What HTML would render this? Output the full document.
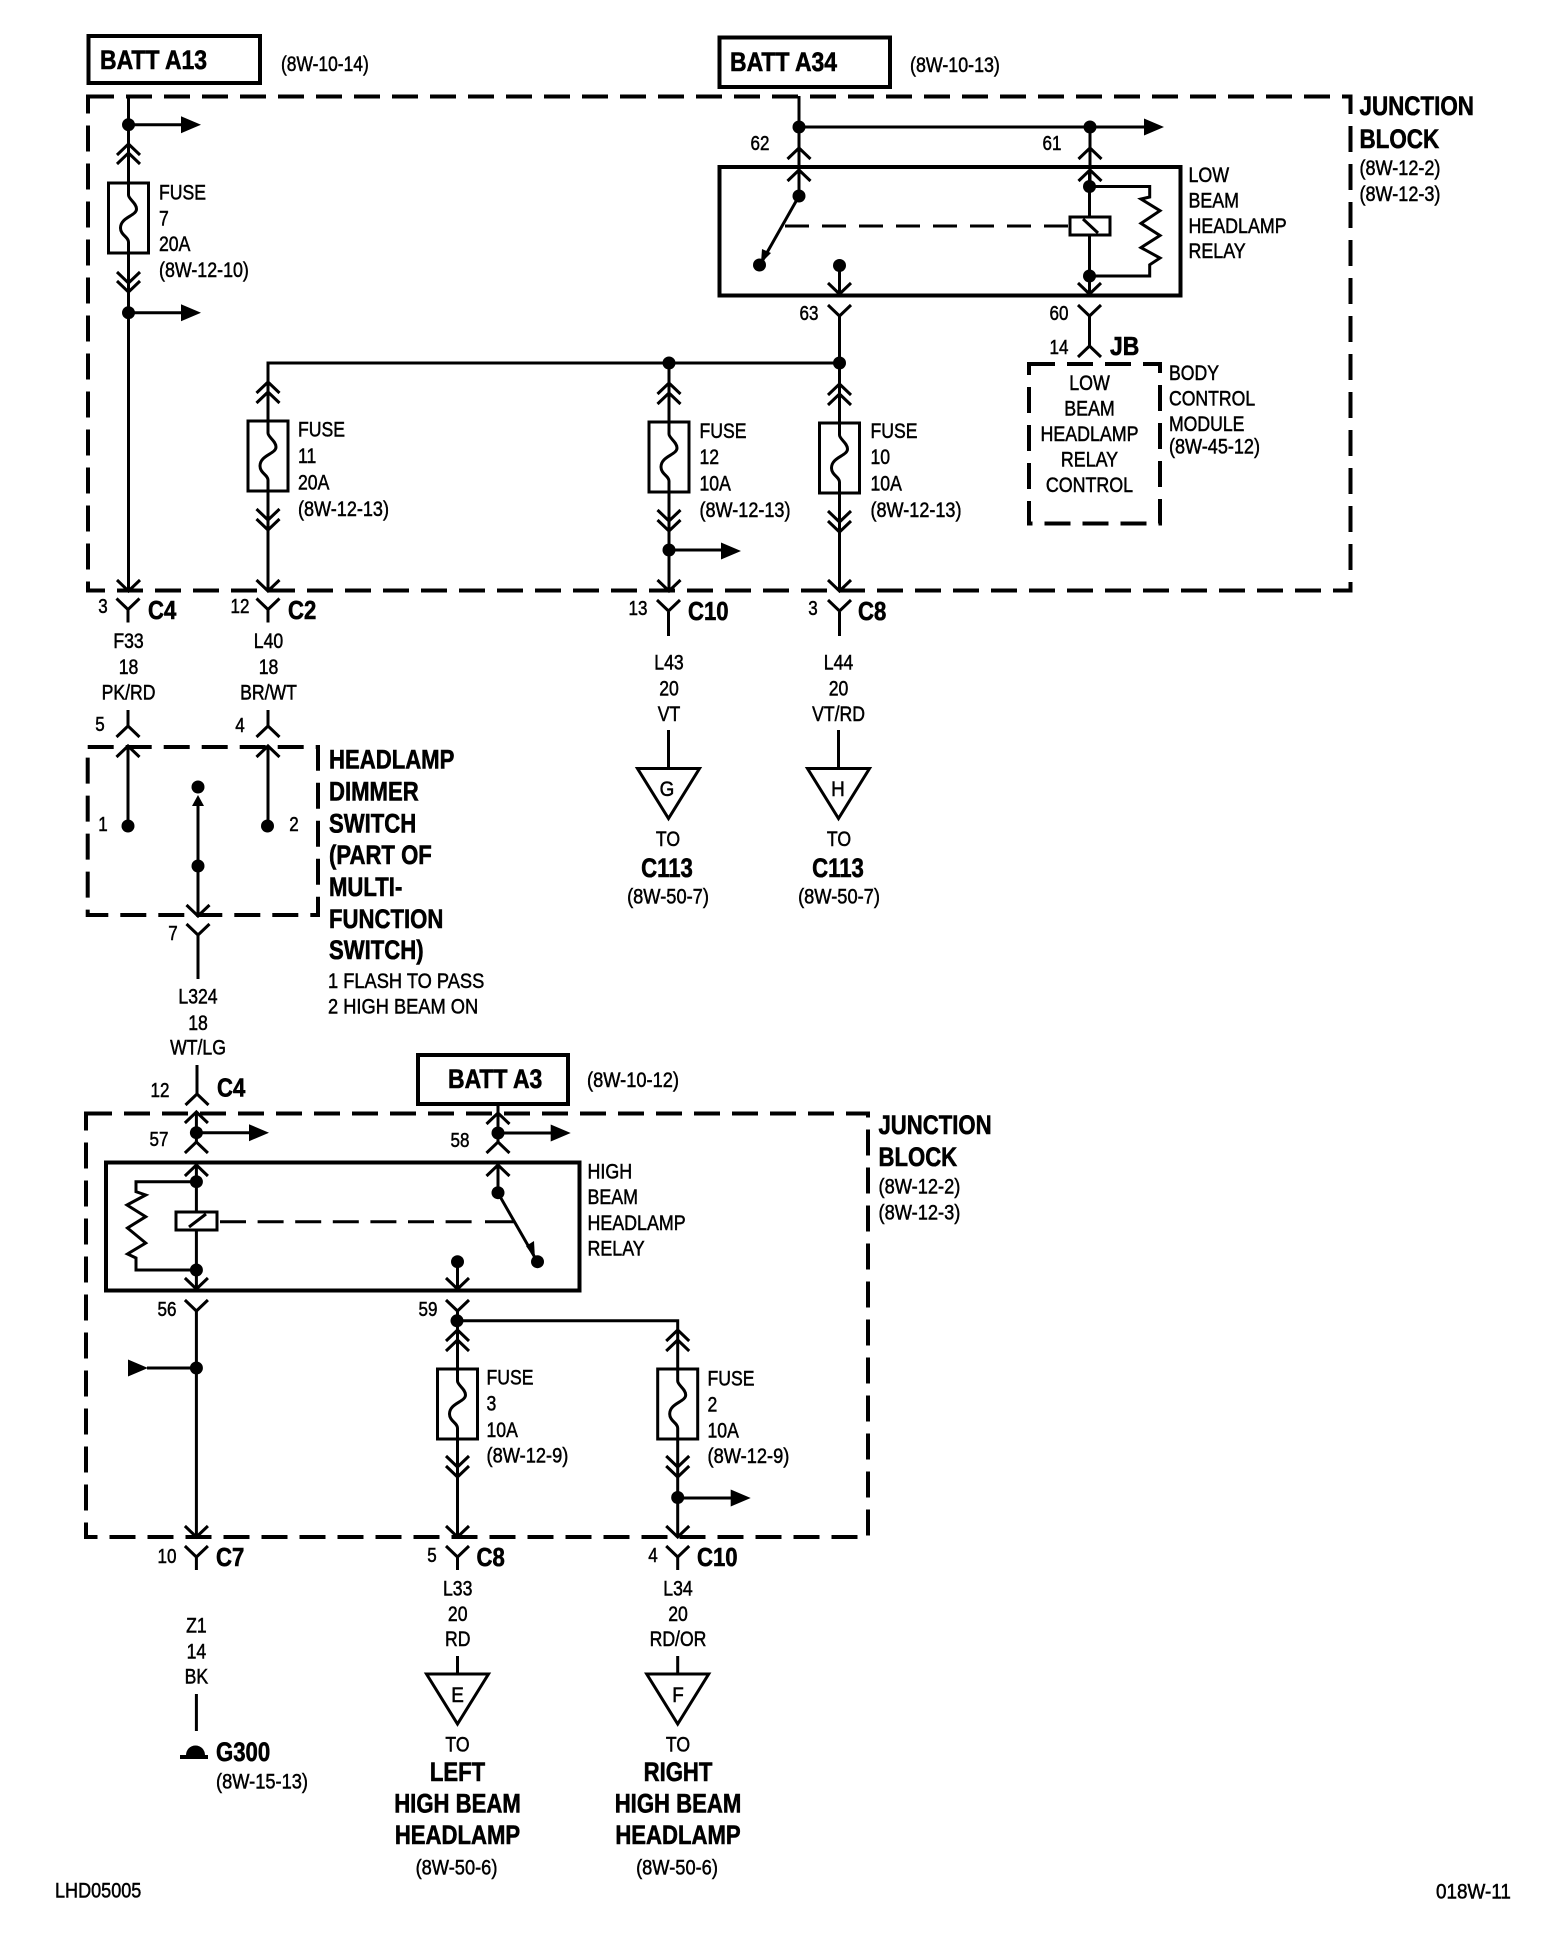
<!DOCTYPE html>
<html><head><meta charset="utf-8"><title>Headlamp wiring diagram</title>
<style>
html,body{margin:0;padding:0;background:#fff}
svg{display:block}
text{font-family:"Liberation Sans",Arial,sans-serif;font-size:21px;fill:#000;stroke:#000;stroke-width:.5}
.b,.b text{font-weight:700;font-size:27px;stroke-width:.6}
.n,.n text{font-size:20px}
.cb,.cb text{font-weight:700;font-size:26px;stroke-width:.6}
.c,.c text{text-anchor:middle}
.w{fill:none;stroke:#000;stroke-width:3}
.t{fill:none;stroke:#000;stroke-width:4}
.d{fill:none;stroke:#000;stroke-width:4;stroke-dasharray:26 12}
</style></head><body>
<svg width="1568" height="1940" viewBox="0 0 1568 1940" xmlns="http://www.w3.org/2000/svg">
<defs>
<polyline id="u" points="-11.5,11 0,0 11.5,11" fill="none" stroke="#000" stroke-width="3"/>
<polyline id="v" points="-11.5,-11 0,0 11.5,-11" fill="none" stroke="#000" stroke-width="3"/>
<polygon id="ah" points="-20,-8.5 0,0 -20,8.5" fill="#000"/>
<circle id="o" r="6.5" fill="#000"/>
<g id="fz"><rect x="-20" y="0" width="40" height="70" fill="#fff" stroke="#000" stroke-width="3"/><path d="M0,0V12C0,16 8,20 8,26C8,33 -8,34 -8,45C-8,52 0,54 0,59V70" fill="none" stroke="#000" stroke-width="3"/></g>
<polygon id="tri" points="-31,0 31,0 0,50" fill="#fff" stroke="#000" stroke-width="3"/>
</defs>
<rect width="1568" height="1940" fill="#fff"/>

<!-- Battery boxes -->
<rect class="t" x="88.5" y="36" width="171.5" height="47"/>
<rect class="t" x="719.5" y="37.5" width="170.5" height="49.5"/>
<rect class="t" x="418" y="1055" width="150" height="49"/>
<text class="b" transform="translate(100 69) scale(.85 1)">BATT A13</text>
<text class="b" transform="translate(730 71) scale(.85 1)">BATT A34</text>
<text class="b" transform="translate(448 1088) scale(.85 1)">BATT A3</text>
<text transform="translate(281 71) scale(.83 1)">(8W-10-14)</text>
<text transform="translate(910 72) scale(.85 1)">(8W-10-13)</text>
<text transform="translate(587 1087) scale(.87 1)">(8W-10-12)</text>

<!-- Dashed blocks -->
<rect class="d" x="88" y="96.5" width="1262.5" height="494"/>
<rect class="d" x="87.7" y="747" width="230.3" height="168"/>
<rect class="d" x="1029" y="364" width="131" height="159.5"/>
<rect class="d" x="86" y="1113.5" width="782" height="423.5"/>

<!-- A13 branch -->
<path class="w" d="M128.5 96V590M128.5 124.7H185M128.5 312.7H185"/>
<use href="#o" x="128.5" y="124.7"/><use href="#ah" x="201" y="124.7"/>
<use href="#u" x="128.5" y="144"/><use href="#u" x="128.5" y="153"/>
<use href="#fz" x="128.5" y="183"/>
<use href="#v" x="128.5" y="283"/><use href="#v" x="128.5" y="292"/>
<use href="#o" x="128.5" y="312.7"/><use href="#ah" x="201" y="312.7"/>
<use href="#v" x="128.5" y="591"/>
<g transform="translate(159 0) scale(.84 1)"><text y="199.5">FUSE</text><text y="225.5">7</text><text y="251">20A</text></g>
<text transform="translate(159 277) scale(.85 1)">(8W-12-10)</text>

<!-- A34 branch -->
<path class="w" d="M799 96V196M799 127H1145M1090 127V186"/>
<use href="#o" x="799" y="127"/><use href="#o" x="1090" y="127"/><use href="#ah" x="1164" y="127"/>
<use href="#u" x="799" y="148"/><use href="#u" x="1090" y="148"/>
<rect class="t" x="719.5" y="167" width="461" height="128.5"/>
<use href="#u" x="799" y="170"/><use href="#u" x="1090" y="170"/>
<use href="#o" x="799" y="196"/>
<path class="w" d="M799 196L760 265"/>
<use href="#o" x="759.5" y="265"/>
<polygon points="761,263 762,249 771,253"/>
<path d="M785 226H1070" fill="none" stroke="#000" stroke-width="3" stroke-dasharray="24 13"/>
<rect x="1070" y="217" width="40" height="18" fill="#fff" stroke="#000" stroke-width="3"/>
<path class="w" d="M1083 219L1098 233M1089.5 170V217M1089.5 235V294M1089.5 186.5H1149.7V197L1141 199L1160 210.7L1141 223.4L1160 235.5L1141 247.6L1160 258L1149.7 264.8V276H1089.5"/>
<use href="#o" x="1089.5" y="186.5"/><use href="#o" x="1089.5" y="276"/>
<use href="#v" x="1089.5" y="294"/>
<path class="w" d="M839.5 265V294"/>
<use href="#o" x="839.5" y="265.5"/><use href="#v" x="839.5" y="294"/>
<path class="w" d="M839.5 316V590M1089.5 316V346"/>
<use href="#v" x="839.5" y="316"/><use href="#v" x="1089.5" y="316"/>
<use href="#u" x="1089.5" y="346"/>
<text class="n c" transform="translate(760 150) scale(.85 1)">62</text>
<text class="n c" transform="translate(1052 150) scale(.85 1)">61</text>
<text class="n c" transform="translate(809 320) scale(.85 1)">63</text>
<text class="n c" transform="translate(1059 320) scale(.85 1)">60</text>
<text class="n c" transform="translate(1059 354) scale(.85 1)">14</text>
<text class="cb" transform="translate(1110 355) scale(.88 1)">JB</text>

<g transform="translate(1188.5 0) scale(.85 1)"><text y="182">LOW</text><text y="207.5">BEAM</text><text y="232.8">HEADLAMP</text><text y="258">RELAY</text></g>
<g class="c" transform="translate(1089.5 0) scale(.85 1)"><text y="390">LOW</text><text y="415.5">BEAM</text><text y="441">HEADLAMP</text><text y="466.5">RELAY</text><text y="492">CONTROL</text></g>
<g transform="translate(1169 0) scale(.84 1)"><text y="380">BODY</text><text y="405.5">CONTROL</text><text y="431">MODULE</text></g>
<text transform="translate(1169 453.5) scale(.86 1)">(8W-45-12)</text>
<g class="b" transform="translate(1359.5 0) scale(.83 1)"><text y="115">JUNCTION</text><text y="148">BLOCK</text></g>
<g transform="translate(1359.5 0) scale(.86 1)"><text y="175">(8W-12-2)</text><text y="201">(8W-12-3)</text></g>

<!-- Bus and fuses 11, 12, 10 -->
<path class="w" d="M268 590V363H840M669 363V590"/>
<use href="#o" x="669" y="363"/><use href="#o" x="839.5" y="363"/>
<use href="#u" x="268" y="382"/><use href="#u" x="268" y="392"/>
<use href="#u" x="669" y="383"/><use href="#u" x="669" y="393"/>
<use href="#u" x="839.5" y="384"/><use href="#u" x="839.5" y="394"/>
<use href="#fz" x="268" y="421"/><use href="#fz" x="669" y="422"/><use href="#fz" x="839.5" y="423"/>
<use href="#v" x="268" y="520"/><use href="#v" x="268" y="530"/>
<use href="#v" x="669" y="521"/><use href="#v" x="669" y="531"/>
<use href="#v" x="839.5" y="522"/><use href="#v" x="839.5" y="532"/>
<path class="w" d="M669 550H725"/>
<use href="#o" x="669" y="550"/><use href="#ah" x="741" y="551"/>
<use href="#v" x="268" y="591"/><use href="#v" x="669" y="591"/><use href="#v" x="839.5" y="591"/>
<g transform="translate(298 0) scale(.84 1)"><text y="436.5">FUSE</text><text y="463">11</text><text y="489.5">20A</text></g>
<text transform="translate(298 516) scale(.86 1)">(8W-12-13)</text>
<g transform="translate(699.5 0) scale(.84 1)"><text y="438">FUSE</text><text y="464">12</text><text y="490.5">10A</text></g>
<text transform="translate(699.5 517) scale(.86 1)">(8W-12-13)</text>
<g transform="translate(870.5 0) scale(.84 1)"><text y="438">FUSE</text><text y="464">10</text><text y="490.5">10A</text></g>
<text transform="translate(870.5 517) scale(.86 1)">(8W-12-13)</text>

<!-- Top block exit connectors -->
<path class="w" d="M128 609V622.5M268 609V622.5M668.5 612V636M839.5 612V636"/>
<use href="#v" x="128" y="609.5"/><use href="#v" x="268" y="609.5"/><use href="#v" x="668.5" y="611"/><use href="#v" x="839.5" y="611"/>
<text class="n c" transform="translate(103 613) scale(.85 1)">3</text>
<text class="cb" transform="translate(148 619) scale(.85 1)">C4</text>
<text class="n c" transform="translate(240 613) scale(.85 1)">12</text>
<text class="cb" transform="translate(288 619) scale(.85 1)">C2</text>
<text class="n c" transform="translate(638 615) scale(.85 1)">13</text>
<text class="cb" transform="translate(688 620) scale(.85 1)">C10</text>
<text class="n c" transform="translate(813 615) scale(.85 1)">3</text>
<text class="cb" transform="translate(858 620) scale(.85 1)">C8</text>
<g class="c" transform="translate(128.5 0) scale(.84 1)"><text y="648">F33</text><text y="674">18</text><text y="699.5">PK/RD</text></g>
<g class="c" transform="translate(268.5 0) scale(.84 1)"><text y="648">L40</text><text y="674">18</text><text y="699.5">BR/WT</text></g>
<g class="c" transform="translate(669 0) scale(.84 1)"><text y="669.5">L43</text><text y="695.5">20</text><text y="721">VT</text></g>
<g class="c" transform="translate(838.5 0) scale(.84 1)"><text y="669.5">L44</text><text y="695.5">20</text><text y="721">VT/RD</text></g>

<!-- G / H -->
<path class="w" d="M668.5 730V768M838.5 730V768"/>
<use href="#tri" x="668.5" y="768.5"/><use href="#tri" x="838.5" y="768.5"/>
<text class="c" transform="translate(667 796) scale(.9 1)">G</text>
<text class="c" transform="translate(838 796) scale(.9 1)">H</text>
<g class="c" transform="translate(668 0) scale(.84 1)"><text y="846">TO</text></g>
<g class="c" transform="translate(839 0) scale(.84 1)"><text y="846">TO</text></g>
<text class="b c" transform="translate(667 877) scale(.82 1)">C113</text>
<text class="b c" transform="translate(838 877) scale(.82 1)">C113</text>
<text class="c" transform="translate(668 903.5) scale(.87 1)">(8W-50-7)</text>
<text class="c" transform="translate(839 903.5) scale(.87 1)">(8W-50-7)</text>

<!-- Dimmer switch -->
<path class="w" d="M128 710V726M268 710V726M128 746V826M268 746V826M198 798V916M198 935V979"/>
<use href="#u" x="128" y="726"/><use href="#u" x="268" y="726"/>
<use href="#u" x="128" y="746"/><use href="#u" x="268" y="746"/>
<use href="#o" x="128" y="826"/><use href="#o" x="267.5" y="826"/>
<use href="#o" x="198" y="787"/><use href="#o" x="198" y="866"/>
<polygon points="198,795 192,806 204,806"/>
<use href="#v" x="198" y="916"/><use href="#v" x="198" y="935"/>
<text class="n c" transform="translate(100 731) scale(.85 1)">5</text>
<text class="n c" transform="translate(240 732) scale(.85 1)">4</text>
<text class="n c" transform="translate(103 831) scale(.85 1)">1</text>
<text class="n c" transform="translate(294 831) scale(.85 1)">2</text>
<text class="n c" transform="translate(173 940) scale(.85 1)">7</text>
<g class="b" transform="translate(329 0) scale(.82 1)"><text y="768.5">HEADLAMP</text><text y="800.5">DIMMER</text><text y="832.5">SWITCH</text><text y="864">(PART OF</text><text y="896">MULTI-</text><text y="928">FUNCTION</text><text y="959">SWITCH)</text></g>
<g transform="translate(328 0) scale(.87 1)"><text y="988">1 FLASH TO PASS</text><text y="1013.5">2 HIGH BEAM ON</text></g>
<g class="c" transform="translate(198 0) scale(.84 1)"><text y="1003.5">L324</text><text y="1030">18</text><text y="1054.5">WT/LG</text></g>

<!-- Lower connector C4 -->
<path class="w" d="M197 1065V1094M196.4 1112V1132M498 1106V1133"/>
<use href="#u" x="197" y="1094"/>
<text class="n c" transform="translate(160 1097) scale(.85 1)">12</text>
<text class="cb" transform="translate(217 1096.5) scale(.85 1)">C4</text>

<!-- High beam relay -->
<use href="#u" x="196.4" y="1112"/><use href="#u" x="498" y="1113"/>
<path class="w" d="M196.4 1132.7H252M498 1133H554M196.4 1132.7V1142M498 1133V1142"/>
<use href="#o" x="196.4" y="1132.7"/><use href="#o" x="498" y="1133"/>
<use href="#ah" x="269" y="1132.7"/><use href="#ah" x="570.7" y="1133"/>
<use href="#u" x="196.4" y="1142"/><use href="#u" x="498" y="1142"/>
<rect class="t" x="106" y="1162.5" width="473.5" height="128"/>
<use href="#u" x="196.4" y="1165"/><use href="#u" x="498" y="1165"/>
<path class="w" d="M196.4 1165V1211M196.4 1230V1289M196.4 1181.7H136V1191.7L145.7 1195L127 1205L145.7 1216.7L127.5 1228L145.7 1243L127.5 1254L136 1258V1270H196.4"/>
<use href="#o" x="196.4" y="1181.7"/><use href="#o" x="196.4" y="1270"/>
<use href="#v" x="196.4" y="1289"/>
<rect x="176" y="1212" width="41" height="18" fill="#fff" stroke="#000" stroke-width="3"/>
<path class="w" d="M189 1227L206 1214"/>
<path d="M220 1221.7H482" fill="none" stroke="#000" stroke-width="3" stroke-dasharray="26 11.6"/>
<path class="w" d="M485 1221.7H514"/>
<path class="w" d="M498 1165V1193L537.5 1262"/>
<use href="#o" x="498" y="1192.7"/><use href="#o" x="537.5" y="1261.7"/>
<polygon points="535,1259 526,1246 534,1241"/>
<path class="w" d="M457.5 1262V1289"/>
<use href="#o" x="457.5" y="1261.7"/><use href="#v" x="457.5" y="1289"/>
<use href="#v" x="196.4" y="1311"/><use href="#v" x="457.5" y="1311"/>
<path class="w" d="M196.4 1311V1537M147 1368H196.4M457.5 1311V1537M457.5 1320.8H677.7V1537"/>
<use href="#o" x="196.4" y="1368"/><use href="#ah" x="148" y="1368"/>
<use href="#o" x="457" y="1320.8"/>
<text class="n c" transform="translate(159 1146) scale(.85 1)">57</text>
<text class="n c" transform="translate(460 1147) scale(.85 1)">58</text>
<text class="n c" transform="translate(167 1316) scale(.85 1)">56</text>
<text class="n c" transform="translate(428 1316) scale(.85 1)">59</text>
<g transform="translate(587.5 0) scale(.85 1)"><text y="1178.5">HIGH</text><text y="1204">BEAM</text><text y="1230">HEADLAMP</text><text y="1255.5">RELAY</text></g>
<g class="b" transform="translate(878.5 0) scale(.82 1)"><text y="1134">JUNCTION</text><text y="1166">BLOCK</text></g>
<g transform="translate(878.5 0) scale(.87 1)"><text y="1193.5">(8W-12-2)</text><text y="1219.5">(8W-12-3)</text></g>

<!-- Fuses 3 and 2 -->
<use href="#u" x="457.5" y="1330"/><use href="#u" x="457.5" y="1340"/>
<use href="#u" x="677.7" y="1330"/><use href="#u" x="677.7" y="1340"/>
<use href="#fz" x="457.5" y="1369"/><use href="#fz" x="677.7" y="1369"/>
<use href="#v" x="457.5" y="1467"/><use href="#v" x="457.5" y="1477"/>
<use href="#v" x="677.7" y="1467"/><use href="#v" x="677.7" y="1477"/>
<path class="w" d="M677.7 1498H733"/>
<use href="#o" x="677.7" y="1497.5"/><use href="#ah" x="750.7" y="1498"/>
<use href="#v" x="196.4" y="1537"/><use href="#v" x="457.5" y="1537"/><use href="#v" x="677.7" y="1537"/>
<g transform="translate(486.5 0) scale(.84 1)"><text y="1384.5">FUSE</text><text y="1410.5">3</text><text y="1437">10A</text></g>
<text transform="translate(486.5 1462.5) scale(.87 1)">(8W-12-9)</text>
<g transform="translate(707.5 0) scale(.84 1)"><text y="1385.5">FUSE</text><text y="1411.5">2</text><text y="1437.5">10A</text></g>
<text transform="translate(707.5 1463) scale(.87 1)">(8W-12-9)</text>

<!-- Lower exits -->
<path class="w" d="M196.4 1557V1570M457.5 1557V1570M677.7 1557V1570M196.4 1694V1731M457.5 1656V1674M677.7 1656V1674"/>
<use href="#v" x="196.4" y="1557"/><use href="#v" x="457.5" y="1557"/><use href="#v" x="677.7" y="1557"/>
<text class="n c" transform="translate(167 1563) scale(.85 1)">10</text>
<text class="cb" transform="translate(216 1566) scale(.85 1)">C7</text>
<text class="n c" transform="translate(432 1562) scale(.85 1)">5</text>
<text class="cb" transform="translate(476.5 1566) scale(.85 1)">C8</text>
<text class="n c" transform="translate(653 1562) scale(.85 1)">4</text>
<text class="cb" transform="translate(697 1566) scale(.85 1)">C10</text>
<g class="c" transform="translate(196.4 0) scale(.84 1)"><text y="1632.5">Z1</text><text y="1658.5">14</text><text y="1683.5">BK</text></g>
<g class="c" transform="translate(457.7 0) scale(.84 1)"><text y="1595.5">L33</text><text y="1621">20</text><text y="1646">RD</text></g>
<g class="c" transform="translate(678 0) scale(.84 1)"><text y="1595.5">L34</text><text y="1621">20</text><text y="1646">RD/OR</text></g>

<!-- Ground -->
<path d="M186 1755A9.5 9.5 0 0 1 205 1755Z"/>
<rect x="180" y="1755" width="28" height="4"/>
<text class="b" transform="translate(216 1761) scale(.82 1)">G300</text>
<text transform="translate(216 1788.5) scale(.87 1)">(8W-15-13)</text>

<!-- E / F -->
<use href="#tri" x="457.5" y="1674"/><use href="#tri" x="677.7" y="1674"/>
<text class="c" transform="translate(457.5 1702) scale(.9 1)">E</text>
<text class="c" transform="translate(678 1702) scale(.9 1)">F</text>
<g class="c" transform="translate(457.5 0) scale(.84 1)"><text y="1751.5">TO</text></g>
<g class="c" transform="translate(678 0) scale(.84 1)"><text y="1751.5">TO</text></g>
<g class="b c" transform="translate(457.5 0) scale(.82 1)"><text y="1781">LEFT</text><text y="1812.5">HIGH BEAM</text><text y="1844">HEADLAMP</text></g>
<g class="b c" transform="translate(678 0) scale(.82 1)"><text y="1781">RIGHT</text><text y="1812.5">HIGH BEAM</text><text y="1844">HEADLAMP</text></g>
<text class="c" transform="translate(456.5 1874.5) scale(.87 1)">(8W-50-6)</text>
<text class="c" transform="translate(677 1874.5) scale(.87 1)">(8W-50-6)</text>

<!-- Corner labels -->
<text transform="translate(55 1897.5) scale(.86 1)">LHD05005</text>
<text transform="translate(1436 1898.5) scale(.9 1)">018W-11</text>
</svg>
</body></html>
